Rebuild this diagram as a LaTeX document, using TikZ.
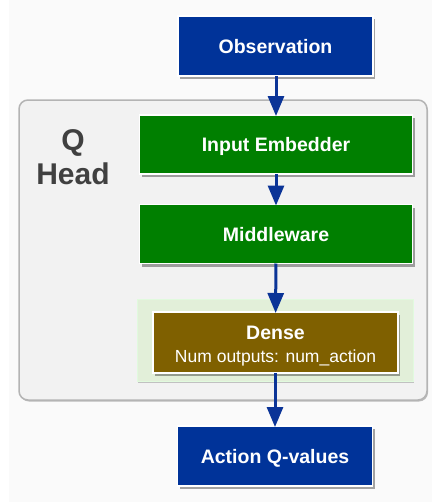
\documentclass[tikz,border=0pt]{standalone}
\usepackage{fontspec}
\setmainfont{Liberation Sans}
\usetikzlibrary{shadows,arrows.meta}
\definecolor{qblue}{HTML}{003399}
\definecolor{qgreen}{HTML}{007F00}
\definecolor{qbrown}{HTML}{7F6000}
\definecolor{qlight}{HTML}{E2EFD9}
\definecolor{qpanel}{HTML}{F2F2F2}
\definecolor{qedge}{HTML}{B4B4B4}
\definecolor{qarrow}{HTML}{0B3497}
\definecolor{qlabel}{HTML}{404040}
\tikzset{
  blockbox/.style={draw=white, line width=1.2pt, text=white,
    font=\fontsize{19.5}{22}\selectfont\bfseries, align=center,
    inner sep=0pt, outer sep=0pt, text height=14pt, text depth=0pt,
    drop shadow={shadow xshift=2pt, shadow yshift=-3pt, opacity=0.35, fill=black}},
  iobox/.style={blockbox, fill=qblue, minimum width=195pt, minimum height=60pt},
  layerbox/.style={blockbox, fill=qgreen, minimum width=273pt, minimum height=59pt},
  densebox/.style={blockbox, fill=qbrown, minimum width=245pt, minimum height=61pt,
    text height=50.3pt, text depth=10.7pt},
  flow/.style={draw=qarrow, line width=3pt,
    -{Triangle[width=16pt,length=20pt]}, shorten >=-1pt}
}
\begin{document}
\begin{tikzpicture}[x=1pt,y=-1pt]
  \useasboundingbox (0,0) rectangle (432,503);
  \fill[white] (0,0) rectangle (432,503);
  \fill[black!2] (9,0) rectangle (432,502);

  % Q head container
  \node[draw=qedge, fill=qpanel, line width=1.5pt, rounded corners=9pt,
        minimum width=408pt, minimum height=300pt, inner sep=0pt,
        drop shadow={shadow xshift=1pt, shadow yshift=-1.5pt, opacity=0.25, fill=black}]
        (head) at (223,250) {};
  \node[text=qlabel, font=\fontsize{30}{34}\selectfont\bfseries, align=center]
        (headlabel) at (73,157) {Q\\Head};

  % blocks
  \node[iobox] (obs) at (275.5,46) {Observation};
  \node[layerbox] (embed) at (276,144.5) {Input Embedder};
  \node[layerbox] (middle) at (276,234) {Middleware};
  \node[draw=qlight!80!green!40, fill=qlight, line width=1pt, minimum width=276pt,
        minimum height=82pt, inner sep=0pt,
        drop shadow={shadow xshift=1pt, shadow yshift=-1.5pt, opacity=0.2, fill=black}]
        (densegroup) at (275,340) {};
  \node[densebox] (dense) at (275.5,342.5)
        {Dense\\[1.3pt]{\fontsize{17.5}{20}\selectfont\mdseries Num outputs: num\_action}};
  \node[iobox] (out) at (275,456) {Action Q-values};

  % connectors
  \draw[flow] (obs.south -| embed.north) -- (embed.north);
  \draw[flow] (embed) -- (middle);
  \draw[flow] (middle) -- (dense);
  \draw[flow] (dense.south -| out.north) -- (out.north);
\end{tikzpicture}
\end{document}
